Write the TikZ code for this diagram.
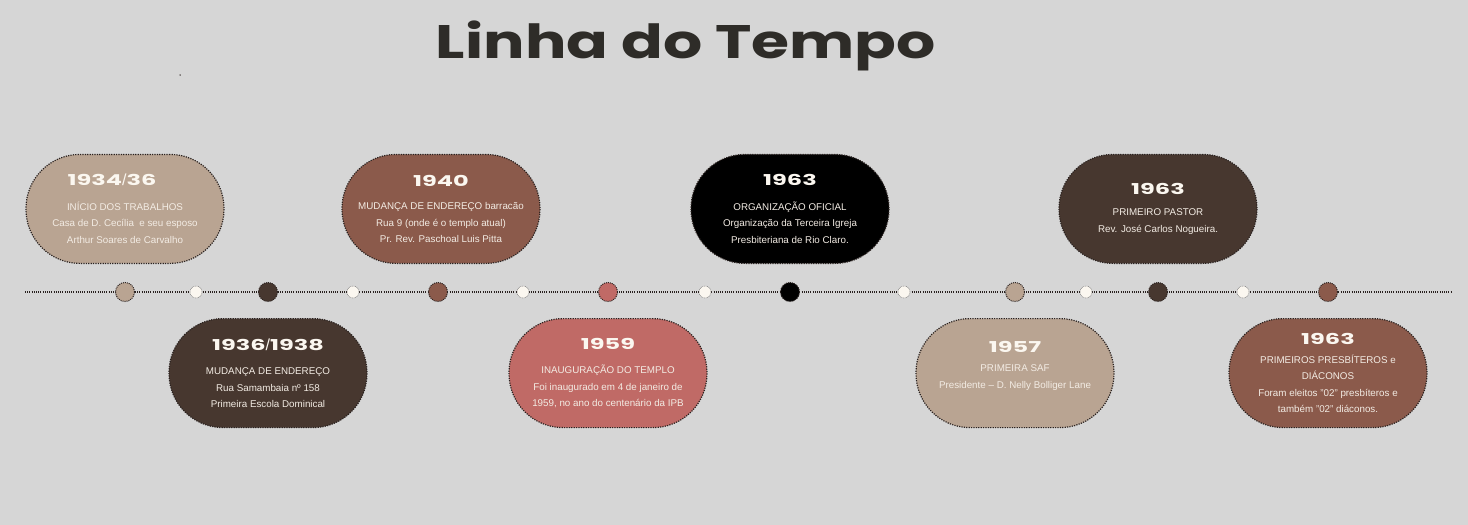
\documentclass[tikz,border=0pt]{standalone}
\usepackage{fontspec}
\usepackage{graphicx}
\setmainfont{Liberation Sans}
\newfontfamily\headfont{Poppins}
\usetikzlibrary{positioning}
\definecolor{canvas}{HTML}{D6D6D6}
\definecolor{titleink}{HTML}{2E2C28}
\definecolor{tan}{HTML}{B9A492}
\definecolor{brick}{HTML}{8B5A4B}
\definecolor{cocoa}{HTML}{47372F}
\definecolor{rosewood}{HTML}{C06A66}
\definecolor{cream}{HTML}{F3ECE4}
\definecolor{ivory}{HTML}{FBF7F0}
\definecolor{bk90}{HTML}{2A2220}
\definecolor{bk50}{HTML}{8A8A8A}
\newcommand{\yr}[1]{{\headfont\bfseries\fontsize{15}{15}\selectfont\color{ivory}\scalebox{1.6}[1]{#1}}}
\newcommand{\yrsl}{{\fontsize{16}{16}\selectfont\color{ivory}/}}
\tikzset{
  pill/.style={
    rectangle, rounded corners=54pt, fill=#1,
    draw=bk90, line width=1.2pt, dash pattern=on 1.2pt off 1.2pt,
    minimum width=198pt, minimum height=109pt,
    text=cream, font=\fontsize{9.8}{16.5}\selectfont,
    align=center, inner sep=0pt
  },
  pill/.default=tan,
  bigdot/.style={
    circle, fill=#1, draw=bk90, line width=1pt,
    dash pattern=on 1pt off 1pt, minimum size=19pt, inner sep=0pt
  },
  smalldot/.style={
    circle, fill=ivory, draw=bk50, line width=0.6pt,
    dash pattern=on 0.8pt off 0.8pt, minimum size=12pt, inner sep=0pt
  },
  timeline/.style={
    draw=bk90, line width=1.4pt, dash pattern=on 1pt off 1.2pt
  },
}
\begin{document}
\begin{tikzpicture}[x=1pt, y=-1pt]
    % Canvas
    \fill[canvas] (0,0) rectangle (1468,525);
    \useasboundingbox (0,0) rectangle (1468,525);

    % Title
    \node[font=\headfont\bfseries\fontsize{47}{47}\selectfont, text=titleink, anchor=base, inner sep=0pt] (title) at (686,58) {\scalebox{1.31}[1]{Linha do Tempo}};
    \node[circle, fill=bk90, minimum size=1.5pt, inner sep=0pt] (speck) at (180,75) {};

    % Timeline
    \coordinate (tl-start) at (25,292);
    \coordinate (tl-end) at (1452,292);
    \draw[timeline] (tl-start) -- (tl-end);

    % Small dots between events
    \foreach \px/\name in {196/s1, 353/s2, 523/s3, 705/s4, 904/s5, 1086/s6, 1243/s7}
      \node[smalldot] (\name) at (\px,292) {};

    % Event dots
    \foreach \px/\name/\col in {125/d1/tan, 268/d2/cocoa, 438/d3/brick, 608/d4/rosewood,
                               790/d5/black, 1015/d6/tan, 1158/d7/cocoa, 1328/d8/brick}
      \node[bigdot=\col] (\name) at (\px,292) {};

    % Events above the line
    \node[pill=tan, above=18pt of d1] (p1934) {\yr{1934}\yrsl\yr{36}\hspace*{26pt}\\[8pt]
      INÍCIO DOS TRABALHOS\\ Casa de D. Cecília\ \ e seu esposo\\ Arthur Soares de Carvalho};
    \node[pill=brick, above=18pt of d3, xshift=3pt] (p1940) {\yr{1940}\\[7pt]
      MUDANÇA DE ENDEREÇO barracão\\ Rua 9 (onde é o templo atual)\\ Pr. Rev. Paschoal Luis Pitta};
    \node[pill=black, above=18pt of d5] (p1963a) {\yr{1963}\\[8pt]
      ORGANIZAÇÃO OFICIAL\\ Organização da Terceira Igreja\\ Presbiteriana de Rio Claro.};
    \node[pill=cocoa, above=18pt of d7] (p1963b) {\yr{1963}\\[5pt]
      PRIMEIRO PASTOR\\ Rev. José Carlos Nogueira.};

    % Events below the line
    \node[pill=cocoa, below=16pt of d2] (p1936) {\yr{1936}\yrsl\yr{1938}\\[8pt]
      MUDANÇA DE ENDEREÇO\\ Rua Samambaia nº 158\\ Primeira Escola Dominical};
    \node[pill=rosewood, below=16pt of d4] (p1959) {\yr{1959}\\[8pt]
      INAUGURAÇÃO DO TEMPLO\\ Foi inaugurado em 4 de janeiro de\\ 1959, no ano do centenário da IPB};
    \node[pill=tan, below=16pt of d6] (p1957) {\yr{1957}\\[3pt]
      PRIMEIRA SAF\\ Presidente -- D. Nelly Bolliger Lane\\[-4.5pt]\strut};
    \node[pill=brick, below=16pt of d8] (p1963c) {\yr{1963}\\[2pt]
      PRIMEIROS PRESBÍTEROS e\\ DIÁCONOS\\ Foram eleitos "02" presbíteros e\\ também "02" diáconos.};
\end{tikzpicture}
\end{document}
